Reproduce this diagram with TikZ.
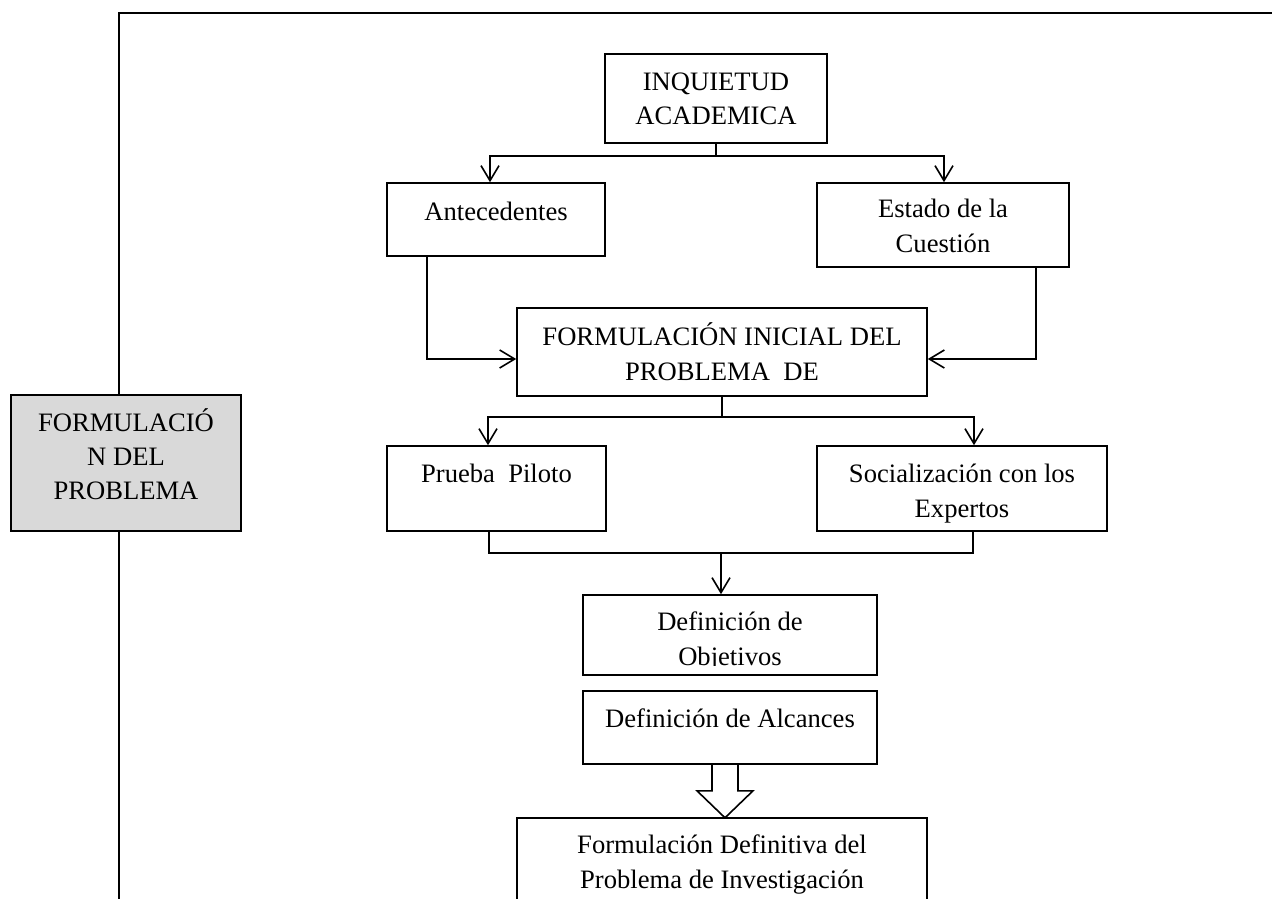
\documentclass[tikz,border=0pt]{standalone}
\usepackage{fontspec}
\setmainfont{Liberation Serif}
\usetikzlibrary{arrows.meta,calc}
\newcommand\fz{\fontsize{26.6}{35}\selectfont}
\newcommand\fzs{\fontsize{26.6}{34}\selectfont}
\begin{document}
\begin{tikzpicture}[x=1pt,y=-1pt,
  box/.style={draw, line width=1.6pt, inner sep=0pt},
  txt/.style={anchor=base, inner sep=0pt, font=\fz},
  arr/.style={line width=1.6pt, -{Straight Barb[length=15pt,width=18pt]}},
  ln/.style={line width=1.6pt},
  lines/.style={}]
\clip (0,0) rectangle (1272,899);
\fill[white] (0,0) rectangle (1272,899);
% frame
\draw[ln] (1280,13) -| (119,905);
% side box
\node[box, fill=black!15, minimum width=230pt, minimum height=136pt] (side) at (126,463) {};
\node[txt, font=\fzs] (tside) at (126,431) {\begin{tabular}[t]{@{}c@{}}FORMULACIÓ\\N DEL\\PROBLEMA\end{tabular}};
% boxes
\node[box, minimum width=222pt, minimum height=89pt] (inq) at (716,98.5) {};
\node[box, minimum width=218pt, minimum height=73pt] (ant) at (496,219.5) {};
\node[box, minimum width=252pt, minimum height=84pt] (est) at (943,225) {};
\node[box, minimum width=410pt, minimum height=88pt] (fi) at (722,352) {};
\node[box, minimum width=219pt, minimum height=85pt] (pp) at (496.5,488.5) {};
\node[box, minimum width=290pt, minimum height=85pt] (soc) at (962,488.5) {};
\node[box, minimum width=294pt, minimum height=80pt] (obj) at (730,635) {};
\node[box, minimum width=294pt, minimum height=73pt] (alc) at (730,727.5) {};
\node[box, minimum width=410pt, minimum height=102pt] (fd) at (722,869) {};
% texts
\node[txt] (tinq) at (716,90) {\begin{tabular}[t]{@{}c@{}}INQUIETUD\\ACADEMICA\end{tabular}};
\node[txt] (tant) at (496,220) {Antecedentes};
\node[txt] (test) at (943,217) {\begin{tabular}[t]{@{}c@{}}Estado de la\\Cuestión\end{tabular}};
\node[txt] (tfi) at (722,345) {\begin{tabular}[t]{@{}c@{}}FORMULACIÓN INICIAL DEL\\PROBLEMA\ \ DE\end{tabular}};
\node[txt] (tpp) at (496.5,482) {Prueba\ \ Piloto};
\node[txt] (tsoc) at (962,482) {\begin{tabular}[t]{@{}c@{}}Socialización con los\\Expertos\end{tabular}};
\begin{scope}
\clip (585,597) rectangle (875,665.5);
\node[txt] (tobj) at (730,630) {\begin{tabular}[t]{@{}c@{}}Definición de\\Objetivos\end{tabular}};
\end{scope}
\node[txt] (talc) at (730,727) {Definición de Alcances};
\node[txt] (tfd) at (722,853) {\begin{tabular}[t]{@{}c@{}}Formulación Definitiva del\\Problema de Investigación\end{tabular}};
% connectors
\coordinate (b1) at (716,156);
\draw[ln] (inq.south) -- (b1);
\draw[arr] (b1) -| ([xshift=-6pt]ant.north);
\draw[arr] (b1) -| ([xshift=1pt]est.north);
\draw[arr] ([xshift=-69pt]ant.south) |- ([yshift=-7pt]fi.west);
\draw[arr] ([xshift=93pt]est.south) |- ([yshift=-7pt]fi.east);
\coordinate (b2) at (722,417);
\draw[ln] (fi.south) -- (b2);
\draw[arr] (b2) -| ([xshift=-8.5pt]pp.north);
\draw[arr] (b2) -| ([xshift=12pt]soc.north);
\coordinate (m) at (721,553);
\draw[ln] ([xshift=-7.5pt]pp.south) |- (m) -| ([xshift=11pt]soc.south);
\draw[arr] (m) -- (m |- obj.north);
% hollow arrow
\draw[ln, line join=miter] ([xshift=-18pt]alc.south) -- ++(0,26) -- ++(-15,0) -- ++(28,27) -- ++(28,-27) -- ++(-15,0) -- ++(0,-26);
\end{tikzpicture}
\end{document}
